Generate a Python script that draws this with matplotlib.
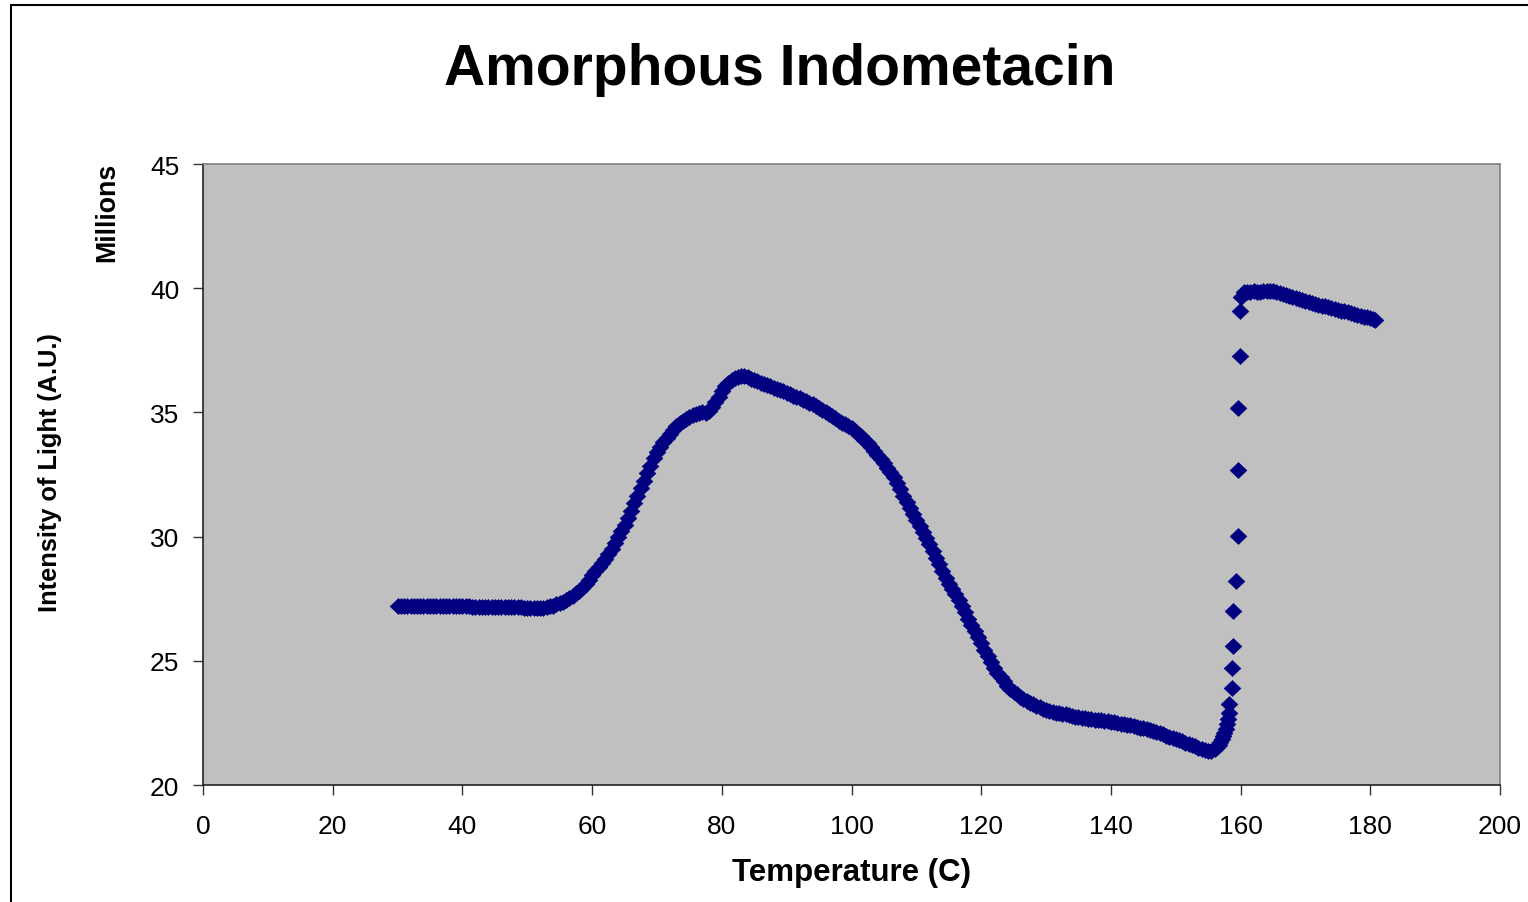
import matplotlib
matplotlib.use("Agg")
import matplotlib.pyplot as plt
from matplotlib.patches import Rectangle
from matplotlib.path import Path

# ---- data (temperature in C, intensity in millions) ----
temp_flat = [30, 30.5, 31, 31.5, 32, 32.5, 33, 33.5, 34, 34.5, 35, 35.5, 36, 36.5, 37, 37.5,
             38, 38.5, 39, 39.5, 40, 40.5, 41, 41.5, 42, 42.5, 43, 43.5, 44, 44.5, 45, 45.5,
             46, 46.5, 47, 47.5, 48, 48.5, 49, 49.5, 50, 50.5, 51, 51.5, 52, 52.5, 53, 53.5,
             54, 54.5, 55, 55.5, 56, 56.5, 57, 57.5, 58, 58.5, 59, 59.5, 60, 60.5, 61, 61.5,
             62, 62.5]
int_flat = [27.22, 27.22, 27.22, 27.22, 27.22, 27.22, 27.22, 27.21, 27.21, 27.21, 27.21, 27.21,
            27.21, 27.20, 27.20, 27.20, 27.20, 27.19, 27.19, 27.19, 27.19, 27.19, 27.19, 27.18,
            27.18, 27.18, 27.18, 27.18, 27.18, 27.17, 27.17, 27.17, 27.16, 27.16, 27.16, 27.15,
            27.15, 27.15, 27.15, 27.14, 27.14, 27.13, 27.12, 27.11, 27.12, 27.13, 27.16, 27.19,
            27.22, 27.27, 27.32, 27.38, 27.45, 27.53, 27.62, 27.72, 27.82, 27.94, 28.08, 28.26,
            28.45, 28.60, 28.76, 28.93, 29.10, 29.30]

temp_rise = [63, 63.5, 64, 64.5, 65, 65.5, 66, 66.5, 67, 67.5, 68, 68.5, 69, 69.5, 70, 70.5,
             71, 71.5, 72, 72.5, 73, 73.5, 74, 74.5, 75, 75.5, 76, 76.5, 77, 77.5, 78, 78.5,
             79, 79.5, 80, 80.5, 81, 81.5, 82, 82.5, 83, 83.5, 84, 84.5, 85, 85.5, 86, 86.5,
             87, 87.5, 88, 88.5, 89, 89.5, 90, 90.5, 91, 91.5, 92, 92.5, 93, 93.5, 94, 94.5,
             95, 95.5, 96, 96.5, 97, 97.5, 98, 98.5, 99, 99.5, 100, 100.5, 101, 101.5, 102,
             102.5, 103, 103.5, 104, 104.5, 105, 105.5]
int_rise = [29.50, 29.75, 30.00, 30.22, 30.45, 30.75, 31.05, 31.35, 31.65, 31.95, 32.25, 32.55,
            32.85, 33.15, 33.40, 33.60, 33.80, 33.98, 34.15, 34.30, 34.45, 34.56, 34.65, 34.74,
            34.82, 34.89, 34.95, 34.99, 35.00, 34.98, 35.05, 35.20, 35.40, 35.62, 35.85, 36.05,
            36.20, 36.30, 36.38, 36.44, 36.48, 36.46, 36.42, 36.36, 36.30, 36.25, 36.20, 36.15,
            36.10, 36.05, 36.00, 35.95, 35.90, 35.85, 35.80, 35.74, 35.68, 35.62, 35.56, 35.50,
            35.44, 35.38, 35.32, 35.25, 35.17, 35.10, 35.02, 34.94, 34.85, 34.76, 34.67, 34.59,
            34.52, 34.45, 34.36, 34.26, 34.15, 34.03, 33.90, 33.76, 33.62, 33.46, 33.30, 33.13,
            32.95, 32.78]

temp_fall = [106, 106.5, 107, 107.5, 108, 108.5, 109, 109.5, 110, 110.5, 111, 111.5, 112, 112.5,
             113, 113.5, 114, 114.5, 115, 115.5, 116, 116.5, 117, 117.5, 118, 118.5, 119, 119.5,
             120, 120.5, 121, 121.5, 122, 122.5, 123, 123.5, 124, 124.5, 125, 125.5, 126, 126.5,
             127, 127.5, 128, 128.5, 129, 129.5, 130, 130.5, 131, 131.5, 132, 132.5, 133, 133.5,
             134, 134.5, 135, 135.5, 136, 136.5, 137, 137.5, 138, 138.5, 139, 139.5, 140, 140.5,
             141, 141.5, 142, 142.5, 143, 143.5, 144, 144.5, 145, 145.5, 146, 146.5, 147, 147.5,
             148, 148.5, 149, 149.5, 150, 150.5, 151, 151.5, 152, 152.5, 153, 153.5, 154, 154.5,
             155, 155.5, 156, 156.3, 156.6, 156.9, 157.1, 157.3, 157.5, 157.7, 157.9, 158.1]
int_fall = [32.60, 32.38, 32.15, 31.90, 31.65, 31.40, 31.15, 30.90, 30.65, 30.42, 30.20, 29.95,
            29.70, 29.42, 29.15, 28.88, 28.60, 28.35, 28.10, 27.90, 27.70, 27.45, 27.20, 26.95,
            26.70, 26.45, 26.20, 25.95, 25.70, 25.45, 25.20, 24.95, 24.70, 24.52, 24.35, 24.17,
            24.00, 23.87, 23.75, 23.65, 23.55, 23.46, 23.38, 23.31, 23.25, 23.18, 23.12, 23.06,
            23.00, 22.96, 22.93, 22.90, 22.88, 22.86, 22.84, 22.81, 22.78, 22.75, 22.73, 22.71,
            22.69, 22.67, 22.65, 22.63, 22.62, 22.60, 22.58, 22.56, 22.55, 22.52, 22.50, 22.47,
            22.45, 22.42, 22.40, 22.37, 22.35, 22.31, 22.28, 22.24, 22.20, 22.16, 22.12, 22.08,
            22.04, 21.99, 21.95, 21.90, 21.86, 21.81, 21.76, 21.70, 21.65, 21.60, 21.55, 21.50,
            21.45, 21.41, 21.38, 21.38, 21.45, 21.52, 21.62, 21.75, 21.85, 21.97, 22.10, 22.25,
            22.45, 22.65]

temp_jump = [158.26, 158.26, 158.63, 158.63, 158.87, 158.87, 159.24, 159.55, 159.55, 159.55,
             159.9, 159.9]
int_jump = [22.89, 23.26, 23.89, 24.71, 25.61, 26.99, 28.22, 30.04, 32.69, 35.19, 37.26, 39.07]

temp_top = [160.0, 160.5, 161, 161.5, 162, 162.5, 163, 163.5, 164, 164.5, 165, 165.5, 166,
            166.5, 167, 167.5, 168, 168.5, 169, 169.5, 170, 170.5, 171, 171.5, 172, 172.5, 173,
            173.5, 174, 174.5, 175, 175.5, 176, 176.5, 177, 177.5, 178, 178.5, 179, 179.5, 180,
            180.4, 180.7]
int_top = [39.65, 39.85, 39.85, 39.86, 39.88, 39.86, 39.85, 39.88, 39.90, 39.89, 39.87, 39.85,
           39.82, 39.77, 39.72, 39.67, 39.63, 39.59, 39.55, 39.51, 39.47, 39.43, 39.40, 39.36,
           39.33, 39.30, 39.27, 39.23, 39.20, 39.16, 39.13, 39.10, 39.07, 39.03, 39.00, 38.97,
           38.94, 38.90, 38.86, 38.83, 38.80, 38.76, 38.73]

temperature = temp_flat + temp_rise + temp_fall + temp_jump + temp_top
intensity = int_flat + int_rise + int_fall + int_jump + int_top

x_ticks = [0, 20, 40, 60, 80, 100, 120, 140, 160, 180, 200]
y_ticks = [20, 25, 30, 35, 40, 45]

title = "Amorphous Indometacin"
x_label = "Temperature (C)"
y_label = "Intensity of Light (A.U.)"
unit_label = "Millions"

# ---- drawing ----
plt.rcParams['font.family'] = ['Liberation Sans', 'DejaVu Sans']

fig = plt.figure(figsize=(15.28, 9.03), dpi=100)
fig.patch.set_facecolor('white')

ax = fig.add_axes([203 / 1528, 1 - 786 / 903, (1500 - 203) / 1528, (786 - 165) / 903])
ax.set_facecolor('#C0C0C0')

# Excel-style diamond, about as tall as wide
diamond = Path([(-1.0, 0.0), (0.0, -0.95), (1.0, 0.0), (0.0, 0.95), (-1.0, 0.0)],
               [Path.MOVETO, Path.LINETO, Path.LINETO, Path.LINETO, Path.CLOSEPOLY])

ax.plot(temperature, intensity, linestyle='none', marker=diamond, markersize=12,
        markerfacecolor='#000080', markeredgecolor='#000080', markeredgewidth=0.5)

ax.set_xlim(0, 200)
ax.set_ylim(20, 45)
ax.set_xticks(x_ticks)
ax.set_yticks(y_ticks)
ax.tick_params(axis='both', direction='out', length=7, width=1.0, colors='#333333',
               labelsize=19, labelcolor='black')
ax.tick_params(axis='y', pad=10)
ax.tick_params(axis='x', pad=14)

for side in ['left', 'bottom']:
    ax.spines[side].set_color('#222222')
    ax.spines[side].set_linewidth(1.2)
for side in ['top', 'right']:
    ax.spines[side].set_color('#808080')
    ax.spines[side].set_linewidth(1.2)

fig.text(780 / 1528, 1 - 70 / 903, title, ha='center', va='center',
         fontsize=41, fontweight='bold')
fig.text(852 / 1528, 1 - 873 / 903, x_label, ha='center', va='center',
         fontsize=22.5, fontweight='bold')
fig.text(50 / 1528, 1 - 473 / 903, y_label, ha='center', va='center', rotation=90,
         fontsize=18.3, fontweight='bold')
fig.text(107 / 1528, 1 - 212 / 903, unit_label, ha='center', va='center', rotation=90,
         fontsize=19.3, fontweight='bold')

# chart outer border
fig.patches.append(Rectangle((11 / 1528, -0.05), 1.1, 1 - 6 / 903 + 0.05,
                             transform=fig.transFigure, fill=False,
                             edgecolor='black', linewidth=1.5))

fig.savefig('out.png', dpi=100, facecolor='white')
